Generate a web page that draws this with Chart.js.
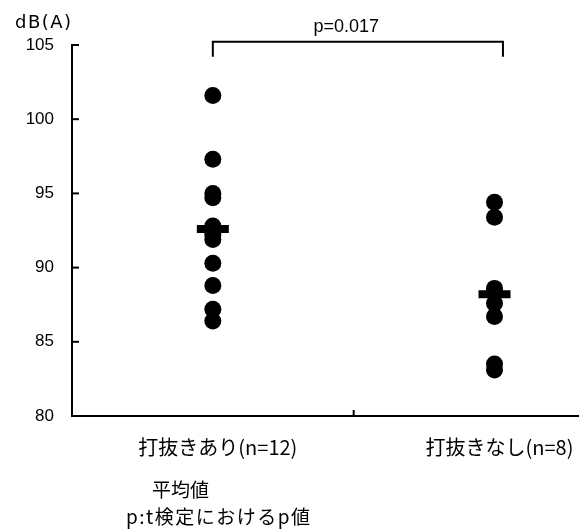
<!DOCTYPE html>
<html>
<head>
<meta charset="utf-8">
<script src="https://cdn.jsdelivr.net/npm/chart.js@4.4.1/dist/chart.umd.min.js"></script>
<style>
body { margin: 0; background: #fff; overflow: hidden; }
#wrap { width: 579px; height: 529px; position: relative; }
</style>
</head>
<body>
<div id="wrap"><canvas id="dotChart"></canvas></div>
<script>
// data
var categories = ["打抜きあり(n=12)", "打抜きなし(n=8)"];
var catX = [0.5, 1.5];
var withPunch = [101.6, 97.3, 95.0, 94.7, 92.8, 92.4, 92.2, 91.9, 90.3, 88.8, 87.2, 86.4];
var withoutPunch = [94.4, 93.4, 88.6, 88.4, 87.6, 86.7, 83.5, 83.1];
var means = [92.6, 88.2];
var yTicks = [80, 85, 90, 95, 100, 105];
var pText = "p=0.017";
var bracketX = [0.5, 1.53];
var bracketY = [105.22, 104.2];
var yUnit = "dB(A)";
var notes = ["平均値", "p:t検定におけるp値"];

function toPoints(vals, x) {
    var out = [];
    for (const v of vals) {
        out.push({ x: x, y: v });
    }
    return out;
}

// tick marks pointing inward, bracket and loose texts
var extras = {
    id: 'extras',
    afterDraw: function(chart) {
        var ctx = chart.ctx;
        var sx = chart.scales.x;
        var sy = chart.scales.y;
        var area = chart.chartArea;
        ctx.save();
        ctx.strokeStyle = '#000';
        ctx.lineWidth = 2;
        for (const v of yTicks) {
            var py = sy.getPixelForValue(v);
            ctx.beginPath();
            ctx.moveTo(area.left, py);
            ctx.lineTo(area.left + 7, py);
            ctx.stroke();
        }
        var mx = sx.getPixelForValue(1);
        ctx.beginPath();
        ctx.moveTo(mx, area.bottom);
        ctx.lineTo(mx, area.bottom - 6);
        ctx.stroke();

        var x1 = sx.getPixelForValue(bracketX[0]);
        var x2 = sx.getPixelForValue(bracketX[1]);
        var yt = sy.getPixelForValue(bracketY[0]);
        var yb = sy.getPixelForValue(bracketY[1]);
        ctx.beginPath();
        ctx.moveTo(x1, yb);
        ctx.lineTo(x1, yt);
        ctx.lineTo(x2, yt);
        ctx.lineTo(x2, yb);
        ctx.stroke();

        ctx.fillStyle = '#000';
        ctx.textBaseline = 'middle';
        ctx.textAlign = 'center';
        ctx.font = '18px "Liberation Sans"';
        ctx.fillText(pText, x1 + (x2 - x1) * 0.46, yt - 15);
        ctx.textAlign = 'left';
        ctx.font = '18px "DejaVu Sans"';
        ctx.letterSpacing = '1.5px';
        ctx.fillText(yUnit, 15, 23);
        ctx.letterSpacing = '0px';
        ctx.font = '19px "Noto Sans CJK JP"';
        ctx.fillText(notes[0], 152, 490);
        ctx.letterSpacing = '1.5px';
        ctx.fillText(notes[1], 126, 517);
        ctx.letterSpacing = '0px';
        ctx.restore();
    }
};

var ctxD = document.getElementById("dotChart").getContext('2d');
var dotChart = new Chart(ctxD, {
    type: 'scatter',
    data: {
        datasets: [{
            label: "平均値",
            data: [{ x: catX[0], y: means[0] }, { x: catX[1], y: means[1] }],
            pointStyle: 'line',
            pointRadius: 16,
            borderWidth: 8,
            borderColor: '#000',
            backgroundColor: '#000'
        }, {
            label: categories[0],
            data: toPoints(withPunch, catX[0]),
            pointRadius: 8.5,
            borderWidth: 0,
            backgroundColor: '#000'
        }, {
            label: categories[1],
            data: toPoints(withoutPunch, catX[1]),
            pointRadius: 8.5,
            borderWidth: 0,
            backgroundColor: '#000'
        }]
    },
    options: {
        responsive: true,
        maintainAspectRatio: false,
        animation: false,
        layout: { autoPadding: false, padding: { top: 45, right: 0, left: 0, bottom: 0 } },
        plugins: {
            legend: { display: false },
            tooltip: { enabled: false }
        },
        scales: {
            x: {
                type: 'linear',
                min: 0,
                max: 1.8,
                afterBuildTicks: function(scale) {
                    scale.ticks = catX.map(function(v) { return { value: v }; });
                },
                afterFit: function(scale) {
                    scale.height = 113;
                    scale.paddingLeft = 0;
                    scale.paddingRight = 0;
                },
                grid: { display: false, drawTicks: false },
                border: { display: true, color: '#000', width: 2 },
                ticks: {
                    autoSkip: false,
                    maxRotation: 0,
                    padding: 19,
                    labelOffset: 5,
                    color: '#000',
                    font: { family: '"Noto Sans CJK JP"', size: 20 },
                    callback: function(v) {
                        var i = catX.indexOf(v);
                        return i >= 0 ? categories[i] : '';
                    }
                }
            },
            y: {
                min: 80,
                max: 105,
                afterFit: function(scale) { scale.width = 72; },
                grid: { display: false, drawTicks: false },
                border: { display: true, color: '#000', width: 2 },
                ticks: {
                    stepSize: 5,
                    padding: 18,
                    color: '#000',
                    font: { family: '"Liberation Sans"', size: 17 }
                }
            }
        }
    },
    plugins: [extras]
});
</script>
</body>
</html>
